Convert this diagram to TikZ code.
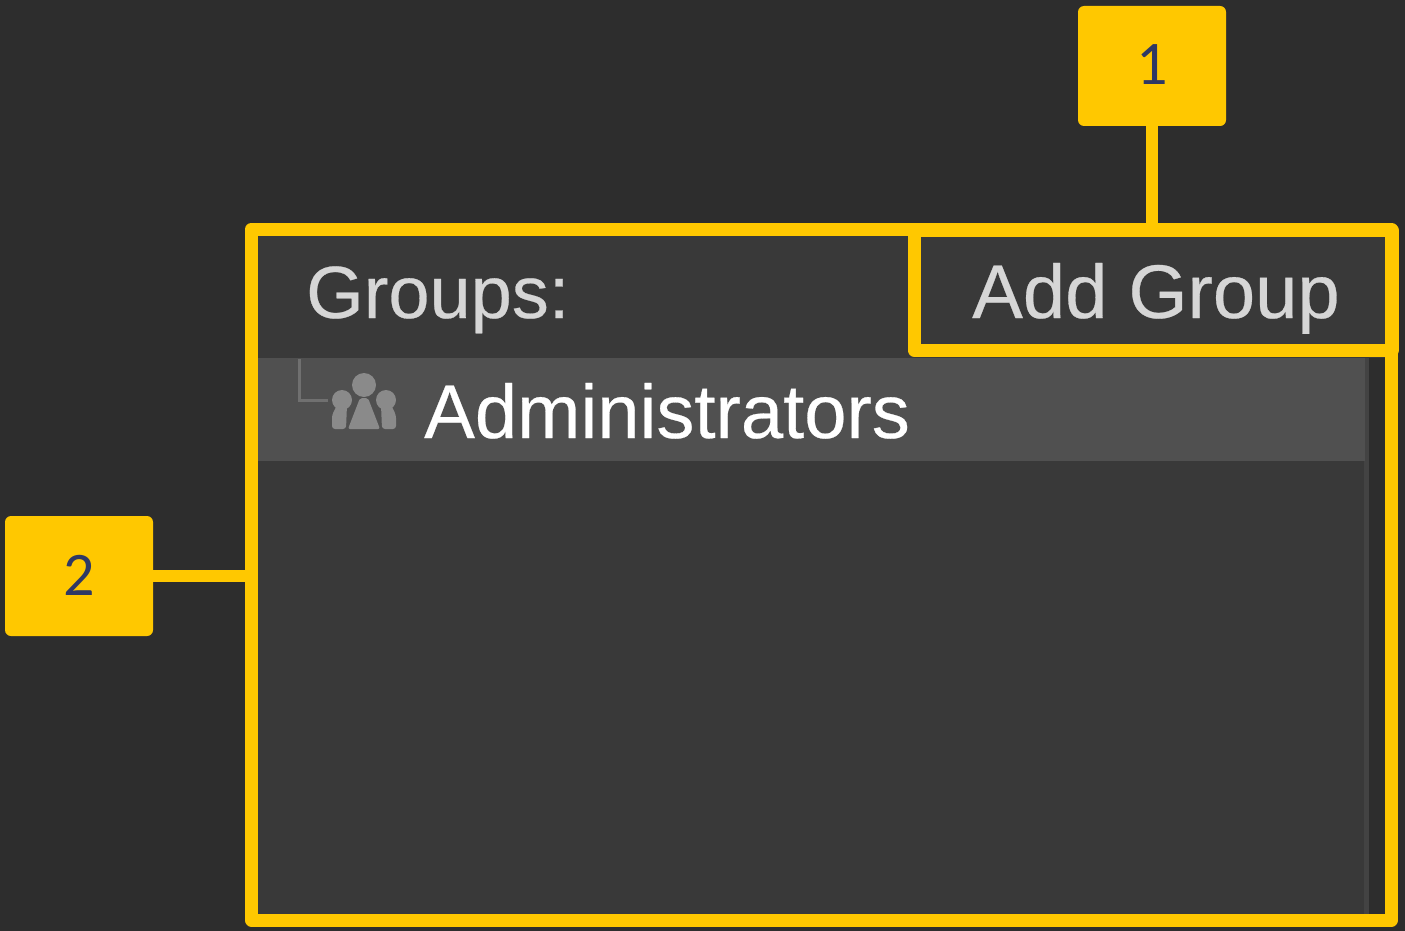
\documentclass[tikz,border=0pt]{standalone}
\usepackage{fontspec}
\setmainfont{Liberation Sans}
\newfontfamily\numfont{Carlito}
\newfontfamily\uifont[FakeBold=0.35]{Liberation Sans}
\definecolor{bgd}{HTML}{2D2D2D}
\definecolor{panel}{HTML}{393939}
\definecolor{rowc}{HTML}{505050}
\definecolor{edgec}{HTML}{434343}
\definecolor{ylw}{HTML}{FFC800}
\definecolor{numc}{HTML}{2F3864}
\definecolor{txtc}{HTML}{D6D6D6}
\definecolor{icon}{HTML}{8A8A8A}
\definecolor{treec}{HTML}{707070}
\tikzset{x=1pt,y=-1pt,
 callout/.style={fill=ylw,rounded corners=6pt,minimum width=148pt,minimum height=120pt,inner sep=0pt,text=numc,font=\numfont\fontsize{62}{62}\selectfont},
 frame/.style={draw=ylw,line width=13pt,inner sep=0pt,outer sep=0pt,line join=round},
 link/.style={draw=ylw,line width=12pt},
 ui/.style={inner sep=0pt,anchor=base west,text=txtc,font=\uifont\fontsize{76}{76}\selectfont}}
\begin{document}
\begin{tikzpicture}
\useasboundingbox (0,0) rectangle (1405,931);
\fill[bgd] (0,0) rectangle (1405,931);
\fill[panel] (252,230) rectangle (1392,920);
\fill[edgec] (1364,358) rectangle (1369,914);
\fill[rowc] (258,358) rectangle (1365,461);
\fill[bgd] (1369,358) rectangle (1386,914);
% tree line
\draw[treec,line width=3pt] (299,359) -- (299,400) -- (328,400);
% icon
\fill[icon] (364,385) circle (12);
\fill[icon] (342,400) circle (10);
\fill[icon] (386,400) circle (10);
\fill[icon,rounded corners=2pt] (348,429) -- (360,398) -- (368,398) -- (380,429) -- cycle;
\fill[icon,rounded corners=3pt] (332,429) -- (332,415) -- (337,405) -- (347,405) -- (346,429) -- cycle;
\fill[icon,rounded corners=3pt] (382,429) -- (381,405) -- (391,405) -- (396,415) -- (396,429) -- cycle;
\node[ui,font=\uifont\fontsize{74}{74}\selectfont] (groups) at (306,318) {Groups:};
\node[ui] (addgrp) at (972,318) {Add Group};
\node[ui,text=white] (admin) at (424,438) {Administrators};
\node[frame,minimum width=1140pt,minimum height=691pt] (outer) at (821.5,574.5) {};
\node[frame,minimum width=478pt,minimum height=120pt] (inner) at (1153,290) {};
\node[callout] (c1) at (1152,66) {\raisebox{2pt}{1}};
\node[callout] (c2) at (79,576) {\raisebox{2pt}{2}};
\draw[link] (c1.south) -- (c1.south |- outer.north);
\draw[link] (c2.east) -- (c2.east -| outer.west);
\end{tikzpicture}
\end{document}
